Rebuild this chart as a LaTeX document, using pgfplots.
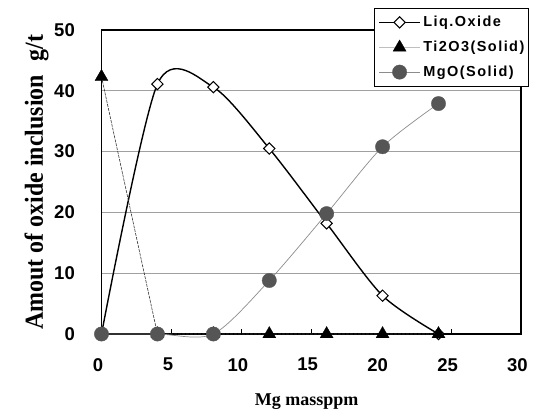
\documentclass[border=0pt]{standalone}
\usepackage{fontspec}
\setmainfont{Liberation Serif}
\setsansfont{Liberation Sans}
\newfontfamily\legfont{Liberation Sans}[LetterSpace=10]
\newfontfamily\ylabfont{Liberation Serif}[FakeStretch=0.92]
\usepackage{pgfplots}
\pgfplotsset{compat=1.18}

\definecolor{mgofill}{HTML}{555555}
\definecolor{mgoline}{HTML}{8C8C8C}
\definecolor{gridgray}{HTML}{A0A0A0}
\definecolor{tiline}{HTML}{333333}

\begin{document}
\begin{tikzpicture}
\begin{axis}[
  scale only axis,
  width=419.5bp, height=304bp,
  xmin=0, xmax=30, ymin=0, ymax=50,
  xtick={0,5,10,15,20,25,30},
  ytick={0,10,20,30,40,50},
  xtick pos=lower, ytick pos=left,
  tick align=inside,
  major tick length=5bp,
  ytick style={draw=none},
  xtick style={black, line width=0.8bp},
  ymajorgrids,
  grid style={gridgray, line width=0.8bp},
  axis line style={black, line width=1.3bp},
  /pgf/number format/assume math mode=true,
  ticklabel style={font=\sffamily\bfseries\fontsize{18.5bp}{18.5bp}\selectfont},
  yticklabel style={anchor=east, inner sep=0pt, xshift=-26.5bp},
  xticklabel style={anchor=north, inner sep=0pt, yshift=-24bp, xshift=-3.5bp},
  xlabel={Mg massppm},
  ylabel={Amout of oxide inclusion\hspace{14bp}g/t},
  xlabel style={at={(axis description cs:0.489,-0.2336)}, anchor=base,
    font=\bfseries\fontsize{18bp}{18bp}\selectfont},
  ylabel style={at={(axis description cs:-0.1395,0.5)}, anchor=base, rotate=0,
    font=\ylabfont\bfseries\fontsize{26bp}{26bp}\selectfont},
  clip=false,
  legend style={
    at={(rel axis cs:0.6496,1.0724)}, anchor=north west,
    draw=black, line width=0.8bp, fill=white,
    font=\legfont\bfseries\fontsize{14.5bp}{16bp}\selectfont,
    nodes={inner sep=0pt, text height=11bp, text depth=3bp},
    inner xsep=4bp, inner ysep=7bp,
    row sep=10.5bp,
    /tikz/every odd column/.append style={column sep=2.5bp},
  },
  legend cell align=left,
  legend image code/.code={
    \draw[mark repeat=2, mark phase=2, #1] plot coordinates {(0bp,0bp) (20.5bp,0bp) (41bp,0bp)};
  },
]

% liquid oxide, smoothed line with open diamonds
\addplot[black, line width=1.4bp, smooth, tension=0.47,
  mark=square*, mark size=4bp,
  mark options={rotate=45, fill=white, draw=black, line width=1bp, solid}]
  coordinates {(0,0) (4,41.1) (8,40.6) (12,30.5) (16.1,18.2) (20.1,6.3) (24.1,0)};
\addlegendentry{Liq.Oxide}

% solid Ti2O3, filled triangles
\addplot[tiline, line width=0.6bp, dash pattern=on 3bp off 1bp,
  mark=triangle*, mark size=7.5bp,
  mark options={fill=black, draw=black, line width=0.3bp, solid},
  legend image post style={draw=gray!50, solid}]
  coordinates {(0,42.3) (4,0) (8,0) (12,0) (16.1,0) (20.1,0) (24.1,0)};
\addlegendentry{Ti2O3(Solid)}

% solid MgO, filled grey circles
\addplot[mgoline, line width=0.7bp, smooth, tension=0.47,
  mark=*, mark size=7.2bp,
  mark options={fill=mgofill, draw=mgofill, line width=0.3bp}]
  coordinates {(0,0) (4,0) (8,0) (12,8.8) (16.1,19.8) (20.1,30.8) (24.1,37.9)};
\addlegendentry{MgO(Solid)}

\end{axis}
\pgfresetboundingbox
\path[use as bounding box] (-101.5bp,-78bp) rectangle (434.5bp,334bp);
\end{tikzpicture}
\end{document}
